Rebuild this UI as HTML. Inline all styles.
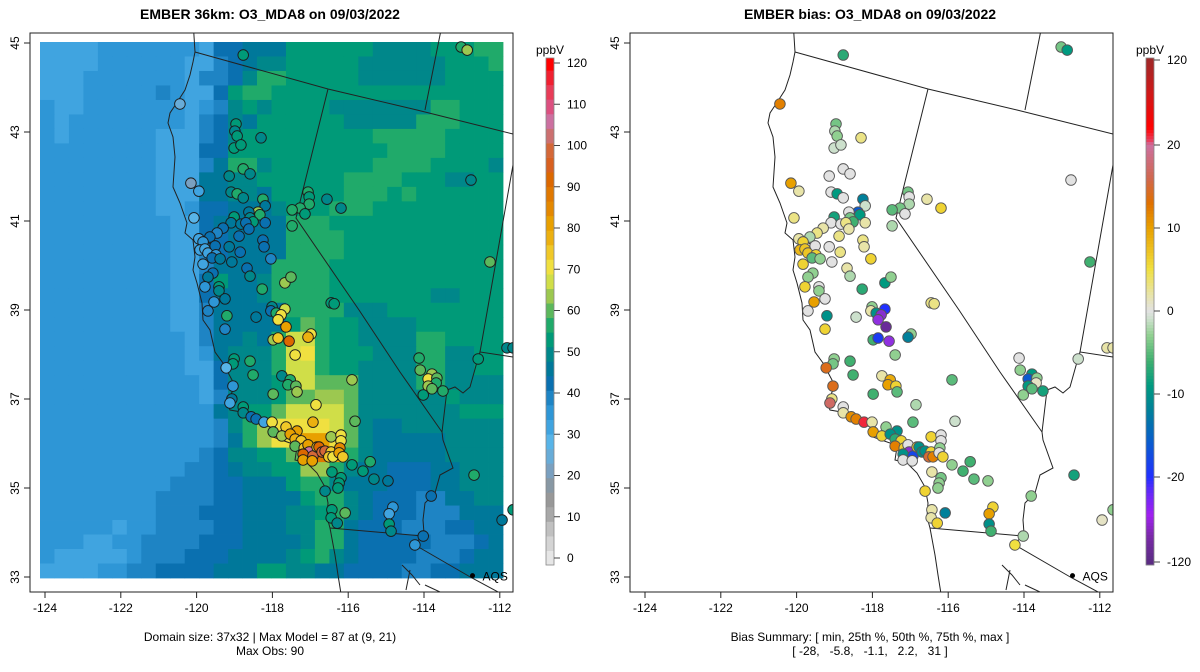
<!DOCTYPE html>
<html><head><meta charset="utf-8">
<style>
html,body{margin:0;padding:0;background:#fff;}
svg{display:block;font-family:"Liberation Sans",Arial,sans-serif;}
</style></head>
<body>
<svg id="chart" width="1200" height="672" viewBox="0 0 1200 672" xmlns="http://www.w3.org/2000/svg">
<defs>
<clipPath id="clipL"><rect x="30" y="33" width="483" height="559"/></clipPath>
<g id="basemap" fill="none" stroke="#222" stroke-width="1">
<path d="M193,20 L195,52 L193,62 L190,75 L185,90 L176,104 L170,113 L168,123 L173,137 L175,157 L173,187 L180,203 L187,223 L185,233 L193,240 L195,257 L193,270 L197,283 L202,303 L203,320 L210,330 L215,352 L223,363 L232,380 L233,390 L227,403 L230,410 L247,413 L257,420 L270,427 L273,437 L290,443 L297,447 L295,460 L307,463 L317,473 L325,487 L328,503 L327,517 L330,528 L335,555 L338,575 L342,600"/>
<path d="M193,240 L203,238 L210,244 L218,250 M198,244 L206,250"/>
<path d="M195,52 L328,89 L417,110 L513,134"/>
<path d="M443,20 L425,110"/>
<path d="M328,89 L296,218 L359,310 L400,372 L442,432 L443,440 L453,468 L440,475 L435,493 L425,503 L423,520 L424,533 L417,542 L415,545"/>
<path d="M330,528 L423,536"/>
<path d="M415,545 L472,578 L513,600"/>
<path d="M513,165 L480,352 L513,357"/>
<path d="M480,352 L477,362 L470,387 L463,393 L455,387 L447,390 L442,432"/>
<path d="M402,565 L412,575 L420,585 M410,570 L406,590 M425,585 L440,592"/>
</g>
</defs>
<g id="left-panel"></g>
<g id="right-panel" transform="translate(600,0)"></g>
</svg>
<script>
// ---- data ----
const gridRows = [
"aaaabbbbbbbaddeeeggggggffffggghh",
"aaaabbbbbbaacdeffgggggffffffgggh",
"aaabbbbbbbaccdfhhgggggffffffgggg",
"aaabbbbbcbaadghhgggggggggggggggg",
"baabbbbbbbabcfgfggggfffffffhhggg",
"babbbbbbbbacdfeggggggfffffhhhggg",
"babbbbbbaaacdfggggggggghhhhhgggg",
"bbbbbbbbaaaddggggggggggghhhhgggg",
"bbbbbbbbaaacehhfggggggghhhhggggf",
"bbbbbbbbaaaeeffgggggghhhhgggffgg",
"bbbbbbbbaaaeeffeggggghhhghgggggg",
"bbbbbbbbaabddeeefggghhhggggggggg",
"bbbbbbbbbaadeeeeehhhgggggggggggg",
"bbbbbbbbbaaddeeeehhhhggggggggggg",
"bbbbbbbbbaacdeeeehhhhggggggggggg",
"bbbbbbbbbaaceeeehhhhgggggggggggg",
"bbbbbbbbbaadgeefhhhhgggggggggggg",
"bbbbbbbbbaadeeefhhhhgggggggffggg",
"bbbbbbbbbaaceeeeehhhhfffgggggggg",
"bbbbbbbbbaaceeeeegihggffffgggggg",
"bbbbbbbbbbaceefehkkhggffffhhgggg",
"bbbbbbbbbbabefffhklhgggfffhhffgg",
"bbbbbbbbbbaadfffhkkhggffffhhffgg",
"bbbbbbbbbbbadfffgkkiiiffffhhffff",
"bbbbbbbbbbbacfffgiijjiffffffgfff",
"bbbbbbbbbbbbefggikkkkifffffffggg",
"bbbbbbbbbbbbcfhjllllkifeefffffff",
"bbbbbbbbbbbbcehjllmmlifeeeeeffff",
"bbbbbbbbbbbcdffggimnmhfeeeeeffff",
"bbbbbbbbbbccdeffggjjhfeedddeefff",
"bbbbbbbbbcccddeeeghhfeeedddeefff",
"bbbbbbbbccccddeeeeghhfedddcceeff",
"bbbbbbbbcccdddeeeffghfedddccceee",
"bbbbbabbccccddeeeffhhedddcccddee",
"bbbaabbccccdddeeeefhhedddddcccdeee",
"baaaaabcccdddeeeefghfeddddcccdee",
"aaaabbccddddeeeggffeeddddccddeee"
];
const levelChars = "abcdefghijklmn";
const levelValues = [32,35,39,42,46,49,53,56,60,64,67,71,81,88];

const siteLon = [-120.44,-118.96,-118.99,-118.93,-119.01,-118.83,-118.30,-119.14,-118.77,-118.59,
-120.15,-119.94,-119.09,-118.93,-118.77,-118.25,-118.19,-118.38,-118.33,-118.62,
-119.01,-118.59,-118.51,-119.09,-118.83,-118.70,-118.62,-118.19,-119.30,-119.46,
-119.65,-119.94,-120.07,-118.88,-119.83,-119.91,-119.78,-119.70,-119.51,-119.49,
-119.59,-119.38,-119.14,-118.85,-119.83,-119.07,-118.25,-118.22,-118.04,-118.67,
-118.59,-119.57,-119.70,-119.78,-119.41,-119.41,-119.25,-119.54,-118.27,-117.67,
-117.51,-117.06,-117.03,-117.03,-117.27,-117.48,-117.14,-117.48,-116.56,-116.19,
-116.45,-116.37,-119.70,-119.20,-118.43,-119.25,-118.01,-118.04,-117.67,-117.90,
-117.77,-117.85,-117.64,-117.98,-117.85,-117.56,-116.98,-117.06,-117.40,-119.01,
-119.04,-119.22,-118.59,-118.51,-119.04,-117.75,-117.53,-117.59,-117.38,-117.35,
-117.98,-115.90,-119.07,-119.12,-118.77,-118.77,-118.56,-118.43,-118.22,-118.01,
-116.85,-116.93,-115.82,-117.98,-117.64,-117.35,-117.75,-117.53,-117.40,-117.24,
-117.40,-117.16,-117.06,-117.03,-117.19,-116.93,-117.19,-116.95,-116.82,-116.77,
-116.69,-116.61,-116.45,-116.19,-116.19,-116.45,-116.51,-116.40,-116.22,-116.24,
-116.14,-115.90,-115.61,-115.42,-115.32,-114.95,-116.43,-116.19,-116.24,-116.27,
-116.61,-116.08,-116.43,-116.45,-116.29,-114.82,-114.92,-114.92,-118.77,-113.02,
-112.86,-114.13,-114.10,-113.79,-113.89,-113.66,-113.68,-113.89,-113.79,-113.50,
-114.02,-112.57,-111.81,-111.65,-112.68,-113.81,-114.87,-114.02,-114.24,-111.94,
-111.65,-112.76,-112.26];
const siteLat = [43.63,43.18,43.02,42.91,42.64,42.71,42.87,42.01,42.17,42.06,
41.85,41.67,41.65,41.61,41.52,41.49,41.34,41.20,41.14,41.20,
41.09,41.07,40.98,40.96,40.93,40.96,40.82,40.96,40.84,40.73,
40.64,40.60,41.07,40.66,40.53,40.35,40.37,40.28,40.44,40.24,
40.17,40.15,40.42,40.30,40.03,40.08,40.57,40.42,40.15,39.94,
39.76,39.83,39.74,39.52,39.52,39.43,39.25,39.18,39.47,39.61,
39.74,41.65,41.54,41.38,41.29,41.25,41.16,40.89,41.49,41.29,
39.16,39.14,38.98,38.87,38.84,38.57,39.07,38.98,39.02,38.93,
38.89,38.78,38.62,38.33,38.37,38.30,38.46,38.39,37.99,37.90,
37.79,37.70,37.85,37.54,37.29,37.52,37.43,37.32,37.29,37.16,
37.11,37.43,37.00,36.91,36.82,36.69,36.60,36.55,36.48,36.48,
36.87,36.48,36.50,36.26,36.37,36.28,36.17,36.21,36.10,36.06,
35.94,35.90,35.97,35.81,35.76,35.72,35.63,35.61,35.92,35.92,
35.81,35.83,36.15,36.19,36.06,35.81,35.70,35.70,35.90,35.79,
35.70,35.52,35.38,35.59,35.20,35.16,35.36,35.23,35.11,35.00,
34.93,34.44,34.51,34.33,34.21,34.57,34.42,34.19,44.73,44.91,
44.84,37.92,37.65,37.56,37.45,37.47,37.36,37.29,37.23,37.18,
37.09,37.90,38.15,38.15,35.29,34.82,34.03,33.92,33.72,34.28,
34.51,41.92,40.08];
const siteBias = [12,-4,-2,-3,-1,-1,3,0,0,0,
10,2,0,-9,0,-12,-1,-16,-9,0,
-8,-4,-6,0,0,3,2,2,2,3,
-2,2,3,3,6,8,7,7,0,6,
-5,-3,0,3,6,0,3,2,6,2,
-2,-3,-3,6,0,-3,0,10,-7,-9,
-3,-4,0,-2,-4,-5,0,-2,2,6,
3,3,0,-10,-1,6,-3,2,-20,-10,
-25,-24,-28,-6,-19,-24,-3,-12,-3,-3,
-4,14,-6,-6,14,2,9,10,6,-5,
-6,-5,3,17,0,2,11,12,31,2,
-2,-5,-1,10,-3,-10,6,-10,-7,6,
12,6,0,-25,-10,-18,0,0,6,-10,
-10,-10,6,0,0,6,15,12,-3,0,
6,-3,-6,-6,-5,-3,2,-4,-3,-3,
6,-12,2,2,6,6,10,-10,-7,-4,
-9,0,-3,-9,-16,-3,1,-9,-5,-8,
-3,-1,2,2,-8,-3,-6,-2,5,1,
-3,0,-6];

const lonTicks = [-124,-122,-120,-118,-116,-114,-112];
const latTicks = [33,35,37,39,41,43,45];
const obsTicks = [0,10,20,30,40,50,60,70,80,90,100,110,120];
const biasTicks = [120,20,10,0,-10,-20,-120];

// ---- scales ----
const X = lon => 45 + (lon + 124) * 37.9;
const Y = lat => 43 + (45 - lat) * 44.5;
const GX0 = 40, GY0 = 42, GW = 463/32, GH = 536/37;

const obsColors = ["#e6e6e6","#d4d4d4","#c0c0c0","#a8a8a8","#989898","#8898a4","#7aa0c0","#68acd8","#58b4e8","#40a4e0","#2e96d6","#1e84c4","#0a70b0","#00789a","#00878a","#009a78","#20aa6a","#5cb85c","#9cc850","#d0de48","#f0e040","#f0c828","#ecb010","#e8a000","#e48800","#e07800","#dc6800","#d86020","#d46838","#cc7070","#cc70a0","#dc5080","#e83c58","#f02030","#ff0000"];
const NB = obsColors.length - 1;
function obsColor(v){ let i = Math.round(v * NB / 120); i = Math.max(0, Math.min(NB, i)); return obsColors[i]; }
const obsBarY = v => 558 - 4.125 * v;

const biasStops = [[-120,"#5b2c83"],[-28,"#6a2a9a"],[-24,"#9030e0"],[-20,"#2030ff"],[-16,"#0a5ad0"],[-12,"#00809a"],[-9,"#009a80"],[-6,"#40b070"],[-3,"#90d090"],[-1,"#cce0cc"],[0,"#e2e2e2"],[2,"#e8e4a8"],[5,"#f0e040"],[8,"#ecb818"],[10,"#e8a000"],[13,"#e07000"],[16,"#d06850"],[20,"#cc70a0"],[25,"#e84060"],[40,"#ff0000"],[80,"#d01818"],[120,"#a02828"]];
function hex(c){return [parseInt(c.slice(1,3),16),parseInt(c.slice(3,5),16),parseInt(c.slice(5,7),16)];}
function interp(stops, v){
  if (v <= stops[0][0]) return stops[0][1];
  for (let i=1;i<stops.length;i++){
    if (v <= stops[i][0]){
      const [a,ca]=stops[i-1],[b,cb]=stops[i];
      const t=(v-a)/(b-a), A=hex(ca), B=hex(cb);
      return "rgb("+A.map((x,k)=>Math.round(x+(B[k]-x)*t)).join(",")+")";
    }
  }
  return stops[stops.length-1][1];
}
const biasColor = v => interp(biasStops, v);
const barLowStops = [[-120,"#5b2c83"],[-90,"#7a2aa8"],[-65,"#a020f0"],[-40,"#6a28f8"],[-20,"#2030ff"]];
const biasBarColor = v => v < -20 ? interp(barLowStops, v) : biasColor(v);

const bPos = [[120,60],[20,145],[10,228],[0,311],[-10,394],[-20,477],[-120,562]];
function biasBarY(v){
  for (let i=1;i<bPos.length;i++){
    const [a,ya]=bPos[i-1],[b,yb]=bPos[i];
    if (v>=b) return ya+(yb-ya)*(a-v)/(a-b);
  }
  return 562;
}
function biasFromY(y){
  for (let i=1;i<bPos.length;i++){
    const [a,ya]=bPos[i-1],[b,yb]=bPos[i];
    if (y<=yb) return a+(b-a)*(y-ya)/(yb-ya);
  }
  return -120;
}

// ---- helpers ----
const NS = "http://www.w3.org/2000/svg";
function el(tag, attrs, parent){ const e=document.createElementNS(NS,tag); for(const k in attrs) e.setAttribute(k,attrs[k]); parent.appendChild(e); return e; }

function modelAt(lon, lat){
  const c = Math.floor((X(lon)-GX0)/GW), r = Math.floor((Y(lat)-GY0)/GH);
  if (r<0||r>=gridRows.length||c<0||c>=32) return null;
  const ch = gridRows[r][c]; const idx = levelChars.indexOf(ch);
  return idx<0 ? null : levelValues[idx];
}

function drawFrame(g, title, foot1, foot2){
  const t = el("text",{x:270,y:19,"text-anchor":"middle","font-size":"14","font-weight":"bold",fill:"#000"},g);
  
  
  t.textContent = title;
  const box = el("rect",{x:30,y:33,width:483,height:559,fill:"none",stroke:"#222","stroke-width":1},g);
  
  
  lonTicks.forEach(v=>{
    const x=X(v);
    const tk=el("line",{x1:x,y1:592,x2:x,y2:598,stroke:"#222"},g);
    
    
    const lb=el("text",{x:x,y:612,"text-anchor":"middle","font-size":"12",fill:"#000"},g);
    
    
    lb.textContent=v;
  });
  latTicks.forEach(v=>{
    const y=Y(v);
    const tk=el("line",{x1:24,y1:y,x2:30,y2:y,stroke:"#222"},g);
    
    
    const lb=el("text",{x:19,y:y,"text-anchor":"middle","font-size":"12",fill:"#000",transform:"rotate(-90 19 "+y+")"},g);
    
    
    lb.textContent=v;
  });
  const f1=el("text",{x:270,y:641,"text-anchor":"middle","font-size":"12",fill:"#000",style:"white-space:pre"},g);
  
  
  f1.textContent=foot1;
  const f2=el("text",{x:270,y:655,"text-anchor":"middle","font-size":"12",fill:"#000",style:"white-space:pre"},g);
  
  
  f2.textContent=foot2;
}

function drawOverlay(clipG, fillFn, stroke){
  const bm = el("use",{href:"#basemap"},clipG);
  
  
  for (let i=0;i<siteLon.length;i++){
    const c = el("circle",{cx:X(siteLon[i]),cy:Y(siteLat[i]),r:5.3,fill:fillFn(i),stroke:stroke,"stroke-width":0.9},clipG);
    
    
  }
  const d = el("circle",{cx:X(-112.72),cy:Y(33.03),r:2.5,fill:"#000"},clipG);
  
  
  const t = el("text",{x:X(-112.72)+10,y:Y(33.03)+5,"font-size":"12",fill:"#000"},clipG);
  
  
  t.textContent="AQS";
}

// ---- left panel ----
const L = document.getElementById("left-panel");
const Lc = el("g",{"clip-path":"url(#clipL)"},L);


gridRows.forEach((row,r)=>{
  for (let c=0;c<32;c++){
    const idx = levelChars.indexOf(row[c]||row[row.length-1]);
    const cell = el("rect",{x:GX0+c*GW,y:GY0+r*GH,width:GW+0.4,height:GH+0.4,fill:obsColor(levelValues[idx])},Lc);
    
    
  }
});
drawOverlay(Lc, i=>{ const m=modelAt(siteLon[i],siteLat[i]); const o=(m==null?50:m)-siteBias[i]; return obsColor(o); }, "#1a1a1a");
drawFrame(L,"EMBER 36km: O3_MDA8 on 09/03/2022","Domain size: 37x32 | Max Model = 87 at (9, 21)","Max Obs: 90");

const cbL = el("g",{},L);


obsColors.forEach((col,i)=>{
  const v=i*120/NB, h=4.125*120/NB;
  let y0=obsBarY(v)-h/2, y1=y0+h;
  y0=Math.max(58,y0); y1=Math.min(565,y1);
  const r=el("rect",{x:546,y:y0,width:8,height:y1-y0+0.3,fill:col},cbL);
  
  
});
el("rect",{x:546,y:58,width:8,height:507,fill:"none",stroke:"#888","stroke-width":0.8},cbL);
obsTicks.forEach(v=>{
  const y=obsBarY(v);
  el("line",{x1:554,y1:y,x2:560,y2:y,stroke:"#444"},cbL);
  const t=el("text",{x:567,y:y+4,"font-size":"12",fill:"#000"},cbL);
  
  
  t.textContent=v;
});
const uL=el("text",{x:550,y:54,"text-anchor":"middle","font-size":"12",fill:"#000"},cbL);


uL.textContent="ppbV";

// ---- right panel ----
const R = document.getElementById("right-panel");
const Rc = el("g",{"clip-path":"url(#clipL)"},R);


drawOverlay(Rc, i=>biasColor(siteBias[i]), "#555");
drawFrame(R,"EMBER bias: O3_MDA8 on 09/03/2022","Bias Summary: [ min, 25th %, 50th %, 75th %, max ]","[ -28,   -5.8,   -1.1,   2.2,   31 ]");

const cbR = el("g",{},R);


for (let y=58;y<565;y+=3){
  const r=el("rect",{x:546,y:y,width:8,height:3.3,fill:biasBarColor(biasFromY(y+1.5))},cbR);
  
  
}
el("rect",{x:546,y:58,width:8,height:507,fill:"none",stroke:"#888","stroke-width":0.8},cbR);
biasTicks.forEach(v=>{
  const y=biasBarY(v);
  el("line",{x1:554,y1:y,x2:560,y2:y,stroke:"#444"},cbR);
  const t=el("text",{x:567,y:y+4,"font-size":"12",fill:"#000"},cbR);
  
  
  t.textContent=v;
});
const uR=el("text",{x:550,y:54,"text-anchor":"middle","font-size":"12",fill:"#000"},cbR);


uR.textContent="ppbV";
</script>
</body></html>
